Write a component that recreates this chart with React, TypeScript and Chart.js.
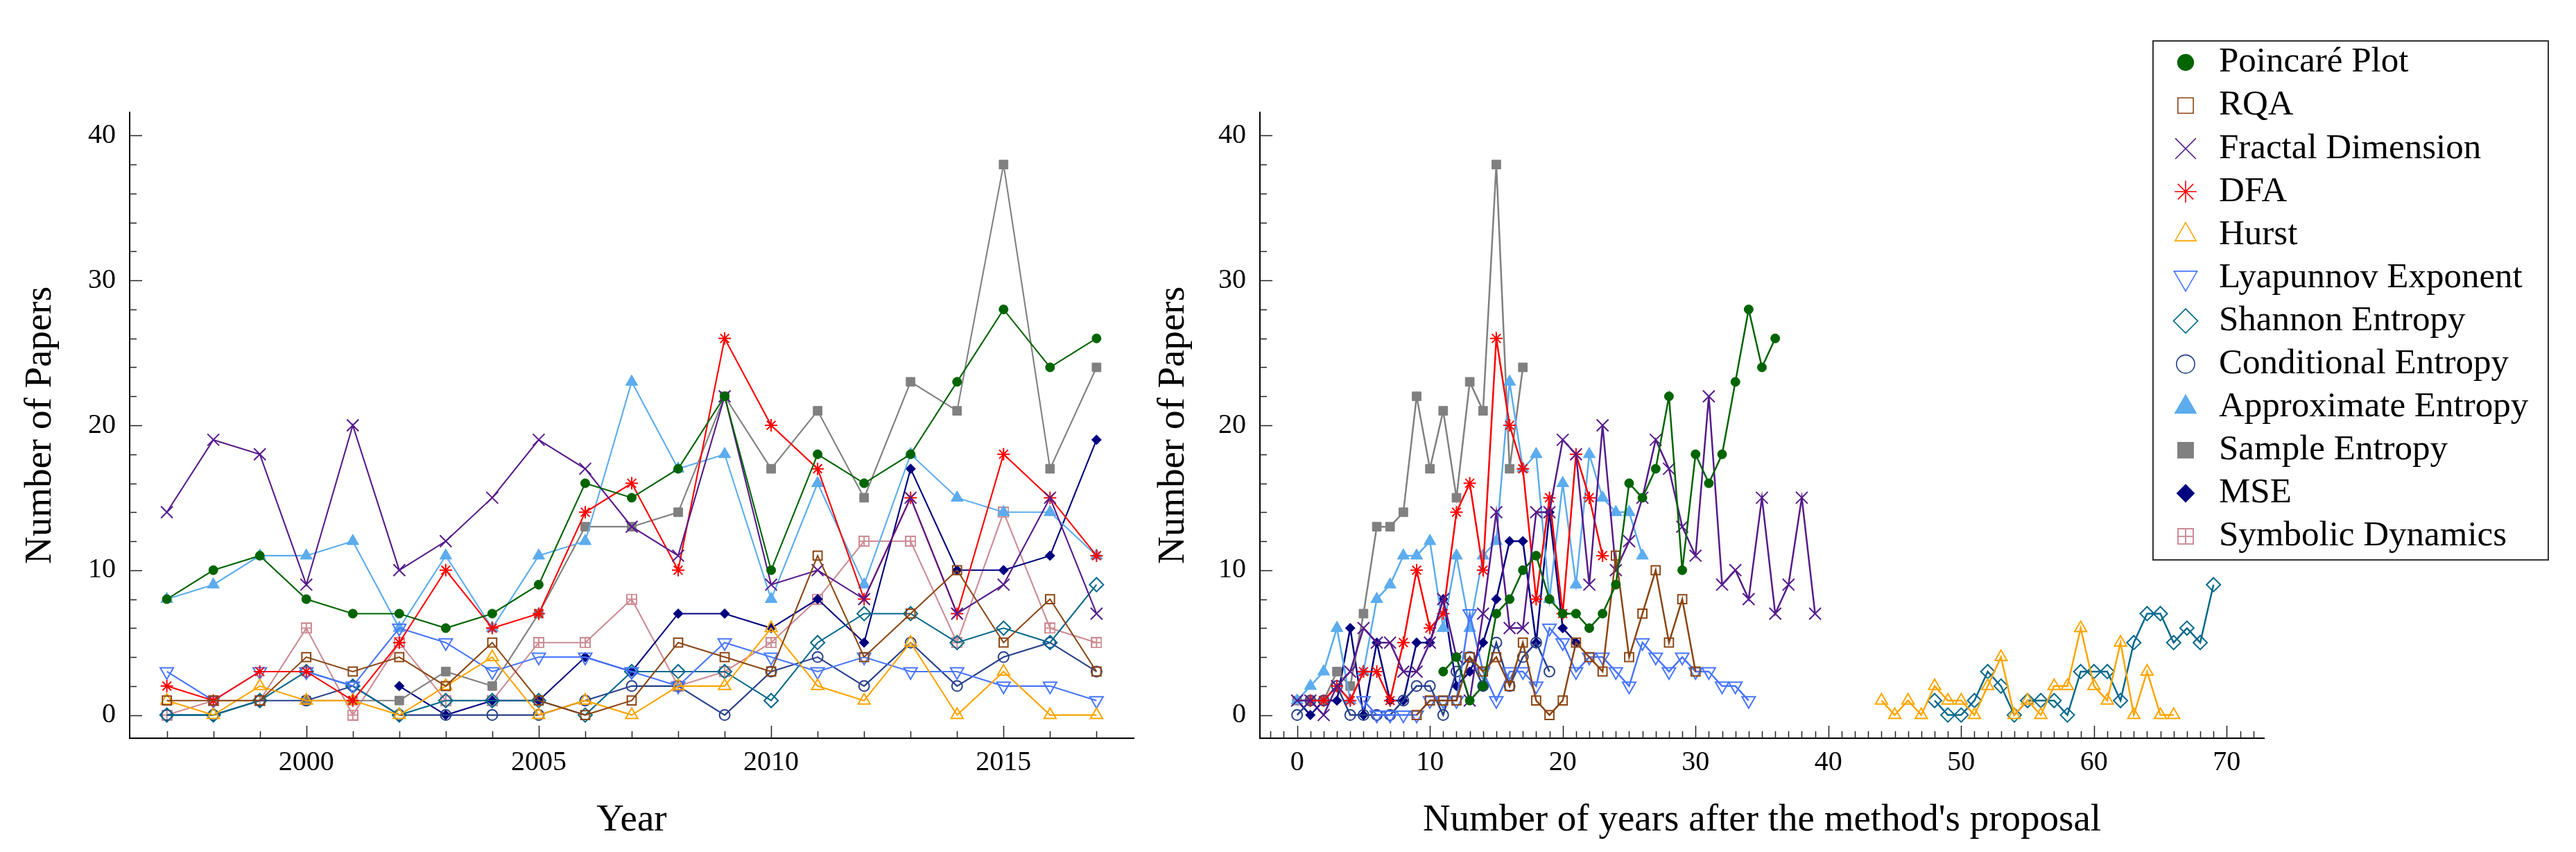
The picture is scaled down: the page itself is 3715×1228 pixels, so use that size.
import { useEffect, useRef } from "react";
import { Chart, registerables } from "chart.js";
import { drawPoint } from "chart.js/helpers";

Chart.register(...registerables);
Chart.defaults.font.family = "'Liberation Serif', 'Times New Roman', serif";

// ---- data ---------------------------------------------------------------

const YEARS = [1997, 1998, 1999, 2000, 2001, 2002, 2003, 2004, 2005, 2006, 2007, 2008, 2009, 2010, 2011, 2012, 2013, 2014, 2015, 2016, 2017];

const POINCARE = [8, 10, 11, 8, 7, 7, 6, 7, 9, 16, 15, 17, 22, 10, 18, 16, 18, 23, 28, 24, 26];
const RQA = [1, 1, 1, 4, 3, 4, 2, 5, 1, 0, 1, 5, 4, 3, 11, 4, 7, 10, 5, 8, 3];
const FRACTAL = [14, 19, 18, 9, 20, 10, 12, 15, 19, 17, 13, 11, 22, 9, 10, 8, 15, 7, 9, 15, 7];
const DFA = [2, 1, 3, 3, 1, 5, 10, 6, 7, 14, 16, 10, 26, 20, 17, 8, 15, 7, 18, 15, 11];
const HURST = [1, 0, 2, 1, 1, 0, 2, 4, 0, 1, 0, 2, 2, 6, 2, 1, 5, 0, 3, 0, 0];
const LYAPUNOV = [3, 1, 3, 3, 2, 6, 5, 3, 4, 4, 3, 2, 5, 4, 3, 4, 3, 3, 2, 2, 1];
const SHANNON = [0, 0, 1, 3, 2, 0, 1, 1, 1, 0, 3, 3, 3, 1, 5, 7, 7, 5, 6, 5, 9];
const CONDITIONAL = [0, 0, 1, 1, 2, 0, 0, 0, 0, 1, 2, 2, 0, 3, 4, 2, 5, 2, 4, 5, 3];
const APEN = [8, 9, 11, 11, 12, 6, 11, 6, 11, 12, 23, 17, 18, 8, 16, 9, 18, 15, 14, 14, 11];
const SAMPEN = [null, null, null, 1, 1, 1, 3, 2, 7, 13, 13, 14, 22, 17, 21, 15, 23, 21, 38, 17, 24];
const MSE = [null, null, null, null, null, 2, 0, 1, 1, 4, 3, 7, 7, 6, 8, 5, 17, 10, 10, 11, 19];
const SYMBOLIC = [0, 1, 1, 6, 0, 5, 1, 1, 5, 5, 8, 2, 3, 5, 8, 12, 12, 5, 14, 6, 5];

// year each method was proposed (x = 0 on the right plot)
const PROPOSED = [1981, 1987, 1978, 1994, 1951, 1983, 1948, 1998, 1991, 2000, 2002, 1996];

// counts before 1997 that only appear on the right plot (each list ends at 1996)
const POINCARE_EARLY = [3, 4, 1, 2, 7];
const RQA_EARLY = [0];
const FRACTAL_EARLY = [1, 1, 0, 2, 3, 6, 5, 5, 3, 3, 5, 8, 4, 1, 7, 14, 6, 6, 14];
const DFA_EARLY = [1, 1];
const HURST_EARLY = [1, 0];
const LYAPUNOV_EARLY = [1, 0, 0, 0, 0, 1, 1, 1, 7];
const SHANNON_EARLY = [1];
const APEN_EARLY = [1, 2, 3, 6, 1, 3];
const SYMBOLIC_EARLY = [1];

const LEFT_X_LABELS = [2000, 2005, 2010, 2015];
const RIGHT_X_LABELS = [0, 10, 20, 30, 40, 50, 60, 70];
const Y_LABELS = [0, 10, 20, 30, 40];

// ---- styling ---------------------------------------------------------------

const H = 1228;
const PLOT_TOP = 162;
const PLOT_BOTTOM = 1064;
const FONT = "'Liberation Serif', 'Times New Roman', serif";

type Style = {
  label: string;
  color: string;
  shape: string;
  radius: number;
  filled: boolean;
  rotation?: number;
};

const STYLES: Style[] = [
  { label: "Poincaré Plot", color: "#006400", shape: "circle", radius: 6.5, filled: true },
  { label: "RQA", color: "#8B4513", shape: "rect", radius: 9, filled: false },
  { label: "Fractal Dimension", color: "#551A8B", shape: "crossRot", radius: 12, filled: false },
  { label: "DFA", color: "#FF0000", shape: "star", radius: 9, filled: false },
  { label: "Hurst", color: "#FFA500", shape: "triangle", radius: 10, filled: false },
  { label: "Lyapunnov Exponent", color: "#4876FF", shape: "triangle", radius: 11, filled: false, rotation: 180 },
  { label: "Shannon Entropy", color: "#00688B", shape: "rectRot", radius: 10, filled: false },
  { label: "Conditional Entropy", color: "#27408B", shape: "circle", radius: 7.5, filled: false },
  { label: "Approximate Entropy", color: "#5CACEE", shape: "triangle", radius: 10, filled: true },
  { label: "Sample Entropy", color: "#808080", shape: "rect", radius: 9, filled: true },
  { label: "MSE", color: "#000080", shape: "rectRot", radius: 7, filled: true },
  { label: "Symbolic Dynamics", color: "#CD8C95", shape: "boxPlus", radius: 8, filled: false },
];

const LEFT_VALUES = [POINCARE, RQA, FRACTAL, DFA, HURST, LYAPUNOV, SHANNON, CONDITIONAL, APEN, SAMPEN, MSE, SYMBOLIC];
const EARLY: (number[] | null)[] = [
  POINCARE_EARLY, RQA_EARLY, FRACTAL_EARLY, DFA_EARLY, HURST_EARLY, LYAPUNOV_EARLY,
  SHANNON_EARLY, null, APEN_EARLY, null, null, SYMBOLIC_EARLY,
];

// square with a plus inside, used for Symbolic Dynamics
function boxPlus(size: number, color: string, lw: number) {
  const c = document.createElement("canvas");
  c.width = size;
  c.height = size;
  const g = c.getContext("2d")!;
  g.strokeStyle = color;
  g.lineWidth = lw;
  const h = lw / 2;
  g.strokeRect(h, h, size - lw, size - lw);
  g.beginPath();
  g.moveTo(size / 2, h);
  g.lineTo(size / 2, size - h);
  g.moveTo(h, size / 2);
  g.lineTo(size - h, size / 2);
  g.stroke();
  return c;
}

function pointStyleOf(st: Style, scale = 1) {
  if (st.shape === "boxPlus") return boxPlus(Math.round(st.radius * 2 * scale), st.color, 2);
  return st.shape;
}

function dataset(st: Style, points: { x: number; y: number }[], lineWidth: number) {
  return {
    label: st.label,
    data: points,
    borderColor: st.color,
    backgroundColor: st.color,
    borderWidth: lineWidth,
    tension: 0,
    fill: false,
    pointStyle: pointStyleOf(st),
    pointRadius: st.radius,
    pointHoverRadius: st.radius,
    pointRotation: st.rotation ?? 0,
    pointBorderColor: st.color,
    pointBackgroundColor: st.filled ? st.color : "rgba(0,0,0,0)",
    pointBorderWidth: st.filled ? 1 : 2,
  };
}

function byYear(values: (number | null)[], from = 0) {
  const pts: { x: number; y: number }[] = [];
  YEARS.forEach((yr, i) => {
    const v = values[i];
    if (v !== null && yr >= from) pts.push({ x: yr, y: v });
  });
  return pts;
}

function sinceProposal(i: number) {
  const p = PROPOSED[i];
  const early = EARLY[i] ?? [];
  const start = YEARS[0] - early.length;
  const pts = early.map((v, k) => ({ x: start + k - p, y: v }));
  return pts.concat(byYear(LEFT_VALUES[i], p).map((q) => ({ x: q.x - p, y: q.y })));
}

// inward tick marks + axis titles
function axisDecor(cfg: {
  xMinor: number[];
  xMajor: number[];
  xTitle: string;
  yTitleX: number;
}) {
  const yMinor: number[] = [];
  for (let v = 0; v <= 40; v += 2) yMinor.push(v);
  return {
    id: "axisDecor",
    afterDraw(chart: any) {
      const { ctx, chartArea: a, scales } = chart;
      const x = scales.x;
      const y = scales.y;
      ctx.save();
      ctx.strokeStyle = "#222";
      ctx.lineWidth = 1.5;
      ctx.beginPath();
      cfg.xMinor.forEach((v) => {
        const px = Math.round(x.getPixelForValue(v)) + 0.5;
        const len = cfg.xMajor.includes(v) ? 18 : 10;
        ctx.moveTo(px, a.bottom);
        ctx.lineTo(px, a.bottom - len);
      });
      yMinor.forEach((v) => {
        const py = Math.round(y.getPixelForValue(v)) + 0.5;
        const len = Y_LABELS.includes(v) ? 18 : 10;
        ctx.moveTo(a.left, py);
        ctx.lineTo(a.left + len, py);
      });
      ctx.stroke();

      ctx.fillStyle = "#000";
      ctx.font = `55px ${FONT}`;
      ctx.textAlign = "center";
      ctx.textBaseline = "alphabetic";
      ctx.fillText(cfg.xTitle, (a.left + a.right) / 2, 1197);
      ctx.translate(cfg.yTitleX, (a.top + a.bottom) / 2);
      ctx.rotate(-Math.PI / 2);
      ctx.textBaseline = "middle";
      ctx.fillText("Number of Papers", 0, 0);
      ctx.restore();
    },
  };
}

// boxed legend drawn over the top-right of the right plot
function boxLegend(offsetX: number) {
  const legendStyles = STYLES.map((st) => pointStyleOf(st, 1.5));
  return {
    id: "boxLegend",
    afterDraw(chart: any) {
      const { ctx } = chart;
      const left = 3105 - offsetX;
      const top = 59;
      ctx.save();
      ctx.fillStyle = "#fff";
      ctx.fillRect(left, top, 570, 748);
      ctx.strokeStyle = "#333";
      ctx.lineWidth = 2;
      ctx.strokeRect(left, top, 570, 748);
      STYLES.forEach((st, i) => {
        const cy = 90 + i * 62.1;
        const mx = 3152 - offsetX;
        ctx.strokeStyle = st.color;
        ctx.fillStyle = st.filled ? st.color : "rgba(0,0,0,0)";
        ctx.lineWidth = 1.6;
        drawPoint(
          ctx,
          { pointStyle: legendStyles[i], radius: st.radius * 1.75, rotation: st.rotation ?? 0, borderWidth: 1.6 } as any,
          mx,
          cy
        );
        ctx.fillStyle = "#000";
        ctx.font = `51px ${FONT}`;
        ctx.textAlign = "left";
        ctx.textBaseline = "middle";
        ctx.fillText(st.label, 3200 - offsetX, cy);
      });
      ctx.restore();
    },
  };
}

function options(o: { xMin: number; xMax: number; xLabels: number[]; padRight: number; yWidth: number }) {
  return {
    animation: false,
    responsive: true,
    maintainAspectRatio: false,
    events: [],
    layout: { padding: { left: 0, right: o.padRight, top: PLOT_TOP, bottom: 0 } },
    plugins: { legend: { display: false }, tooltip: { enabled: false } },
    scales: {
      x: {
        type: "linear",
        min: o.xMin,
        max: o.xMax,
        grid: { display: false, drawTicks: false },
        border: { display: true, color: "#000", width: 2 },
        ticks: {
          font: { size: 40 },
          color: "#000",
          padding: 11,
          maxRotation: 0,
          autoSkip: false,
          callback: (v: number) => String(v),
        },
        afterBuildTicks: (s: any) => {
          s.ticks = o.xLabels.map((value) => ({ value }));
        },
        afterFit: (s: any) => {
          s.height = H - PLOT_BOTTOM;
        },
      },
      y: {
        type: "linear",
        min: -1.6,
        max: 41.6,
        grid: { display: false, drawTicks: false },
        border: { display: true, color: "#000", width: 2 },
        ticks: {
          font: { size: 40 },
          color: "#000",
          padding: 20,
          callback: (v: number) => String(v),
        },
        afterBuildTicks: (s: any) => {
          s.ticks = Y_LABELS.map((value) => ({ value }));
        },
        afterFit: (s: any) => {
          s.width = o.yWidth;
        },
      },
    },
  };
}

const LEFT_CANVAS = { left: 0, width: 1650 };
const RIGHT_CANVAS = { left: 1650, width: 2065 };

function leftConfig(): any {
  return {
    type: "line",
    data: { datasets: STYLES.map((st, i) => dataset(st, byYear(LEFT_VALUES[i]), 2.1)) },
    options: options({ xMin: 1996.2, xMax: 2017.8, xLabels: LEFT_X_LABELS, padRight: 15, yWidth: 187 }),
    plugins: [axisDecor({ xMinor: YEARS, xMajor: LEFT_X_LABELS, xTitle: "Year", yTitleX: 59 })],
  };
}

function rightConfig(): any {
  // On the right plot the symbolic-dynamics counts are drawn with the MSE marker,
  // and no MSE line is shown, as in the original figure.
  const datasets = [0, 1, 2, 3, 4, 5, 6, 7, 8, 9].map((i) => dataset(STYLES[i], sinceProposal(i), 2.5));
  datasets.push(dataset(STYLES[10], sinceProposal(11), 2.5));
  const minor: number[] = [];
  for (let v = -2; v <= 72; v++) minor.push(v);
  return {
    type: "line",
    data: { datasets },
    options: options({ xMin: -2.8, xMax: 72.8, xLabels: RIGHT_X_LABELS, padRight: 450, yWidth: 167 }),
    plugins: [
      axisDecor({
        xMinor: minor,
        xMajor: RIGHT_X_LABELS,
        xTitle: "Number of years after the method's proposal",
        yTitleX: 1693 - RIGHT_CANVAS.left,
      }),
      boxLegend(RIGHT_CANVAS.left),
    ],
  };
}

function Plot({ left, width, makeConfig }: { left: number; width: number; makeConfig: () => any }) {
  const ref = useRef<HTMLCanvasElement>(null);
  useEffect(() => {
    const canvas = ref.current;
    if (!canvas) return;
    const chart = new Chart(canvas, makeConfig());
    return () => chart.destroy();
  }, [makeConfig]);
  return (
    <div style={{ position: "absolute", left, top: 0, width, height: H }}>
      <canvas ref={ref} />
    </div>
  );
}

export default function App() {
  return (
    <div style={{ position: "absolute", left: 0, top: 0, width: 3715, height: H, background: "#fff", overflow: "hidden" }}>
      <Plot left={LEFT_CANVAS.left} width={LEFT_CANVAS.width} makeConfig={leftConfig} />
      <Plot left={RIGHT_CANVAS.left} width={RIGHT_CANVAS.width} makeConfig={rightConfig} />
    </div>
  );
}
